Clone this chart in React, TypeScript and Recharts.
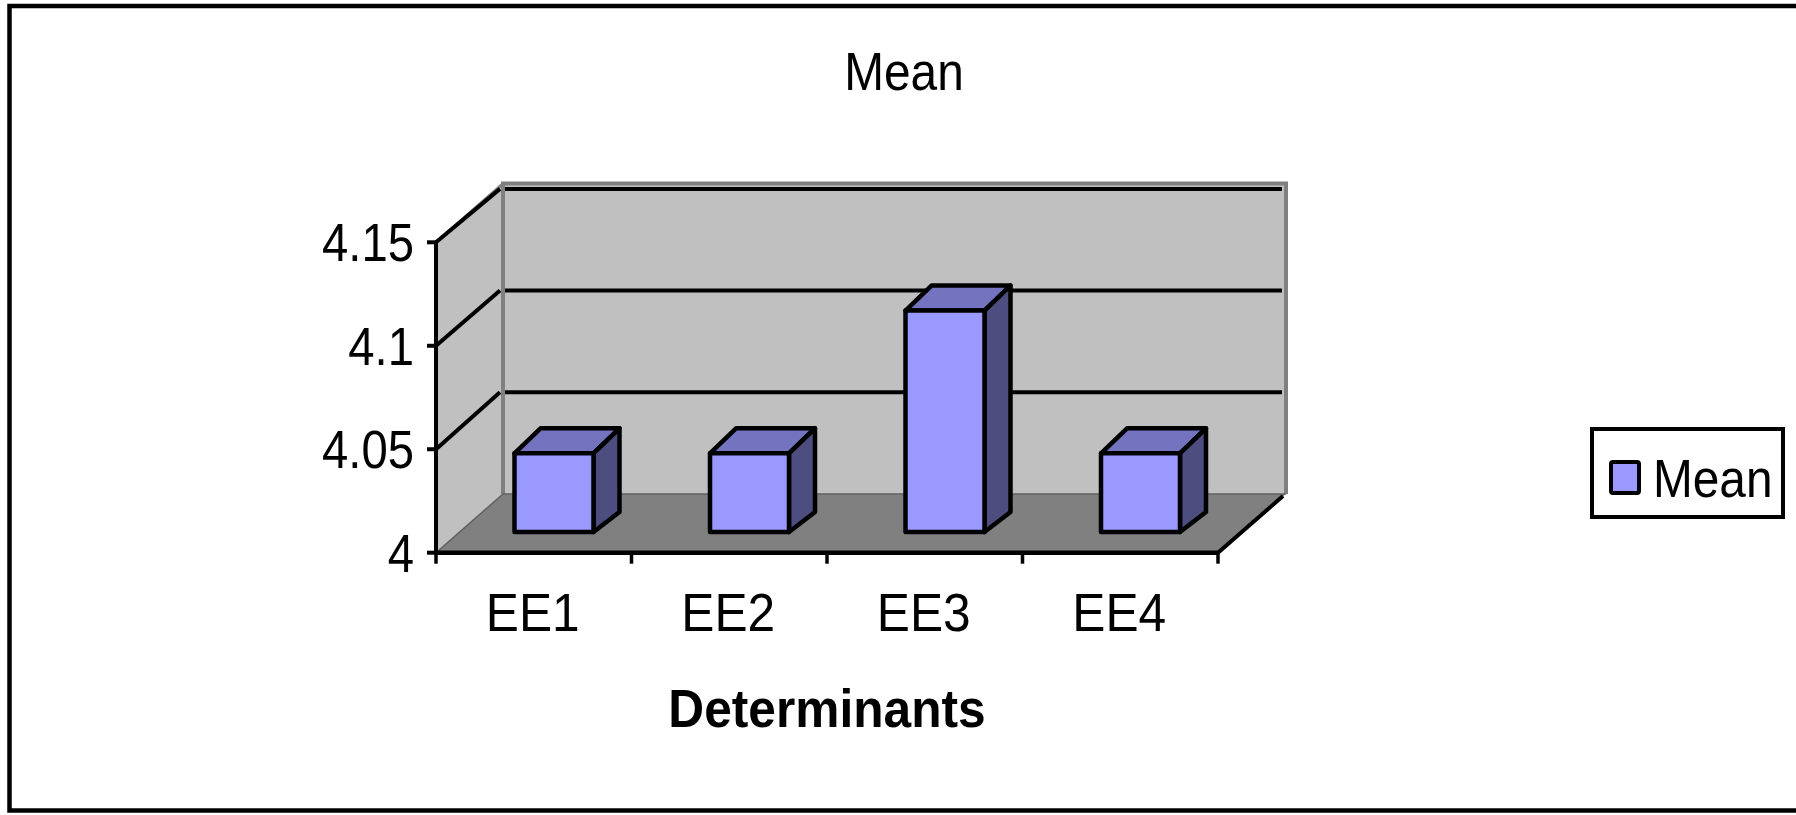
import { Bar, BarChart, CartesianGrid, Label, Legend, XAxis, YAxis } from "recharts";

const categories = ["EE1", "EE2", "EE3", "EE4"];
const meanValues = [4.038, 4.038, 4.107, 4.038];
const yTicks = [4, 4.05, 4.1, 4.15];

const chartData = categories.map((name, i) => ({ name, Mean: meanValues[i] }));

const WIDTH = 1796;
const HEIGHT = 815;
const PLOT_LEFT = 436;
const PLOT_RIGHT = 1218;
const PLOT_TOP = 242.3;
const PLOT_BOTTOM = 552.7;
const Y_AXIS_WIDTH = 100;
const X_AXIS_HEIGHT = 190;
const BAND = (PLOT_RIGHT - PLOT_LEFT) / categories.length;

// 3D box: how far the back wall sits behind the axes, and where the bars stand in between
const DEPTH_X = 67;
const DEPTH_Y = 58.7;
const BACK_SCALE = 0.983;
const BAR_SHIFT_X = 20.5;
const BAR_SHIFT_Y = 20.7;
const BAR_DEPTH_X = 26;
const BAR_DEPTH_TOP = 25;
const BAR_DEPTH_BOTTOM = 20;

const FONT = "'Liberation Sans', Arial, sans-serif";
const FONT_SIZE = 54;

function SqueezedText({ x, y, scaleX = 0.885, anchor = "middle", weight = "normal", children }: any) {
  return (
    <text
      transform={`translate(${x} ${y}) scale(${scaleX} 1)`}
      textAnchor={anchor}
      fontFamily={FONT}
      fontSize={FONT_SIZE}
      fontWeight={weight}
      fill="#000"
    >
      {children}
    </text>
  );
}

function Walls() {
  const backLeft = PLOT_LEFT + DEPTH_X;
  const backRight = PLOT_RIGHT + DEPTH_X + 1;
  const backTop = PLOT_TOP - DEPTH_Y;
  const backBottom = PLOT_BOTTOM - DEPTH_Y;
  return (
    <g>
      <polygon
        points={`${PLOT_LEFT},${PLOT_TOP} ${backLeft},${backTop} ${backLeft},${backBottom} ${PLOT_LEFT},${PLOT_BOTTOM}`}
        fill="#c0c0c0"
      />
      <rect x={backLeft} y={backTop} width={backRight - backLeft} height={backBottom - backTop} fill="#c0c0c0" />
      <polygon
        points={`${PLOT_LEFT},${PLOT_BOTTOM} ${backLeft},${backBottom} ${backRight},${backBottom} ${PLOT_RIGHT},${PLOT_BOTTOM}`}
        fill="#808080"
      />
      <line x1={PLOT_LEFT} y1={PLOT_TOP} x2={backLeft} y2={backTop} stroke="#808080" strokeWidth={3} />
      <polyline
        points={`${backLeft},${backBottom} ${backLeft},${backTop} ${backRight},${backTop} ${backRight},${backBottom}`}
        fill="none"
        stroke="#808080"
        strokeWidth={4}
      />
      <line x1={PLOT_LEFT} y1={PLOT_BOTTOM} x2={backLeft} y2={backBottom} stroke="#606060" strokeWidth={1.5} />
      <line x1={backLeft} y1={backBottom} x2={backRight} y2={backBottom} stroke="#606060" strokeWidth={1.5} />
      <line x1={PLOT_RIGHT} y1={PLOT_BOTTOM} x2={backRight - 3} y2={backBottom + 2} stroke="#000" strokeWidth={4} />
    </g>
  );
}

// Each gridline runs up the side wall from the tick and then along the back wall
function GridLine({ x1, y1 }: any) {
  if (Math.abs(y1 - PLOT_BOTTOM) < 1) return <g />;
  const backY = PLOT_BOTTOM - DEPTH_Y - (PLOT_BOTTOM - y1) * BACK_SCALE;
  return (
    <g stroke="#000" strokeWidth={4}>
      <line x1={x1} y1={y1} x2={x1 + DEPTH_X - 3} y2={backY} />
      <line x1={x1 + DEPTH_X + 2} y1={backY} x2={PLOT_RIGHT + DEPTH_X - 3} y2={backY} />
    </g>
  );
}

function BarBox({ x, y, width, height }: any) {
  const left = x + BAR_SHIFT_X;
  const right = left + width;
  const top = y - BAR_SHIFT_Y;
  const bottom = top + height;
  const line = { stroke: "#000", strokeWidth: 4.5, strokeLinejoin: "round" as const };
  return (
    <g>
      <polygon
        points={`${left},${top} ${left + BAR_DEPTH_X},${top - BAR_DEPTH_TOP} ${right + BAR_DEPTH_X},${top - BAR_DEPTH_TOP} ${right},${top}`}
        fill="#7373bf"
        {...line}
      />
      <polygon
        points={`${right},${top} ${right + BAR_DEPTH_X},${top - BAR_DEPTH_TOP} ${right + BAR_DEPTH_X},${bottom - BAR_DEPTH_BOTTOM} ${right},${bottom}`}
        fill="#4d4d80"
        {...line}
      />
      <rect x={left} y={top} width={width} height={height} fill="#9999ff" {...line} />
    </g>
  );
}

function YTick({ x, y, payload }: any) {
  return (
    <SqueezedText x={x} y={y + 19} anchor="end" scaleX={0.875}>
      {payload.value}
    </SqueezedText>
  );
}

// Tick marks sit between the categories, so they are drawn with the label
function XTick({ x, payload, index }: any) {
  const markTop = PLOT_BOTTOM;
  const markBottom = PLOT_BOTTOM + 11;
  return (
    <g>
      <line x1={x - BAND / 2} y1={markTop} x2={x - BAND / 2} y2={markBottom} stroke="#000" strokeWidth={3.5} />
      {index === categories.length - 1 && (
        <line x1={x + BAND / 2} y1={markTop} x2={x + BAND / 2} y2={markBottom} stroke="#000" strokeWidth={3.5} />
      )}
      <SqueezedText x={x - 1} y={PLOT_BOTTOM + 78} scaleX={0.92}>
        {payload.value}
      </SqueezedText>
    </g>
  );
}

function AxisTitle({ viewBox }: any) {
  return (
    <SqueezedText x={viewBox.x + viewBox.width / 2} y={PLOT_BOTTOM + 174} scaleX={0.92} weight="bold">
      Determinants
    </SqueezedText>
  );
}

function LegendBox() {
  return (
    <svg width={199} height={96} style={{ display: "block" }}>
      <rect x={4} y={4} width={191} height={88} fill="#fff" stroke="#000" strokeWidth={4} />
      <rect x={23} y={37} width={28} height={31} rx={2} fill="#9999ff" stroke="#000" strokeWidth={4} />
      <SqueezedText x={65} y={72} anchor="start">
        Mean
      </SqueezedText>
    </svg>
  );
}

export default function App() {
  return (
    <div style={{ position: "absolute", left: 0, top: 0 }}>
      <BarChart
        width={WIDTH}
        height={HEIGHT}
        data={chartData}
        margin={{
          top: PLOT_TOP,
          right: WIDTH - PLOT_RIGHT,
          bottom: HEIGHT - PLOT_BOTTOM - X_AXIS_HEIGHT,
          left: PLOT_LEFT - Y_AXIS_WIDTH,
        }}
      >
        <rect x={9.5} y={6} width={WIDTH} height={804.5} fill="#fff" stroke="#000" strokeWidth={4.5} />
        <SqueezedText x={904} y={90}>
          Mean
        </SqueezedText>
        <Walls />
        <CartesianGrid zIndex={1} vertical={false} horizontal={(props: any) => <GridLine {...props} />} />
        <XAxis
          dataKey="name"
          height={X_AXIS_HEIGHT}
          axisLine={{ stroke: "#000", strokeWidth: 4.5 }}
          tickLine={false}
          tick={(props: any) => <XTick {...props} />}
          interval={0}
        >
          <Label content={(props: any) => <AxisTitle {...props} />} />
        </XAxis>
        <YAxis
          width={Y_AXIS_WIDTH}
          domain={[4, 4.15]}
          ticks={yTicks}
          axisLine={{ stroke: "#000", strokeWidth: 4 }}
          tickLine={{ stroke: "#000", strokeWidth: 4 }}
          tickSize={9}
          tickMargin={13}
          tick={(props: any) => <YTick {...props} />}
        />
        <Legend
          align="center"
          verticalAlign="middle"
          wrapperStyle={{ left: 1588, top: 425, width: 199, height: 96 }}
          content={() => <LegendBox />}
        />
        <Bar dataKey="Mean" barSize={79} isAnimationActive={false} shape={(props: any) => <BarBox {...props} />} />
      </BarChart>
    </div>
  );
}
